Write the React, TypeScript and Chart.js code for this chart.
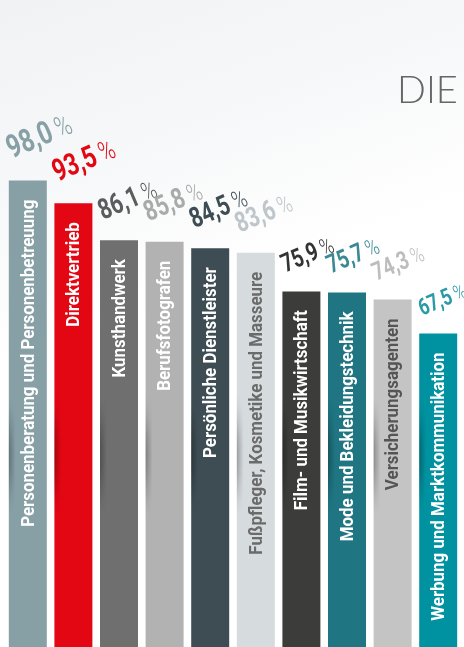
import React, { useEffect, useRef } from "react";
import { Chart, registerables } from "chart.js";

Chart.register(...registerables);

const categories = [
  "Personenberatung und Personenbetreuung",
  "Direktvertrieb",
  "Kunsthandwerk",
  "Berufsfotografen",
  "Persönliche Dienstleister",
  "Fußpfleger, Kosmetike und Masseure",
  "Film- und Musikwirtschaft",
  "Mode und Bekleidungstechnik",
  "Versicherungsagenten",
  "Werbung und Marktkommunikation",
];

const values = [98.0, 93.5, 86.1, 85.8, 84.5, 83.6, 75.9, 75.7, 74.3, 67.5];

const valueLabels = ["98,0", "93,5", "86,1", "85,8", "84,5", "83,6", "75,9", "75,7", "74,3", "67,5"];

const barColors = [
  "#87a0a6", "#e30613", "#6f6f6f", "#b2b2b2", "#3e4d54",
  "#d6dbde", "#3c3c3a", "#1f7582", "#c4c4c4", "#0092a0",
];

const valueColors = [
  "#87a0a6", "#e30613", "#5c5c5c", "#aaaaaa", "#3e4d54",
  "#bfc6cb", "#333333", "#3a8995", "#bdbdbd", "#2b9aa6",
];

const nameColors = [
  "#ffffff", "#ffffff", "#ffffff", "#ffffff", "#ffffff",
  "#6b6b6b", "#ffffff", "#ffffff", "#555555", "#ffffff",
];

const FONT = "Roboto, 'Liberation Sans', sans-serif";

const labelPlugin = {
  id: "labelPlugin",
  afterDatasetsDraw(chart: any) {
    const ctx = chart.ctx as CanvasRenderingContext2D;
    const meta = chart.getDatasetMeta(0);
    meta.data.forEach((bar: any, i: number) => {
      const left = bar.x - bar.width / 2;

      // soft shadow along the left edge of each bar
      ctx.save();
      const centerY = 455;
      const half = 65;
      for (let yy = centerY - half; yy < centerY + half; yy++) {
        if (yy < bar.y) continue;
        const t = (yy - centerY) / half;
        const a = 0.28 * Math.pow(Math.cos((t * Math.PI) / 2), 2);
        const g = ctx.createLinearGradient(left, 0, left + 7, 0);
        g.addColorStop(0, `rgba(0,0,0,${a})`);
        g.addColorStop(1, "rgba(0,0,0,0)");
        ctx.fillStyle = g;
        ctx.fillRect(left, yy, 7, 1);
      }
      ctx.restore();

      // category label inside bar (vertical)
      ctx.save();
      ctx.translate(bar.x, bar.y + 19);
      ctx.rotate(-Math.PI / 2);
      ctx.scale(0.89, 1);
      ctx.font = `bold 19px ${FONT}`;
      ctx.textAlign = "right";
      ctx.textBaseline = "middle";
      ctx.fillStyle = nameColors[i];
      ctx.fillText(categories[i], 0, 1);
      ctx.restore();

      // value label above bar (slanted, size grows with the value)
      const size = 32 - (98 - values[i]) * 0.28;
      const s = size / 32;
      ctx.save();
      ctx.translate(left + 3, bar.y - (6 + size * 0.5));
      ctx.rotate((-23 * Math.PI) / 180);
      ctx.scale(0.75 * s, s);
      ctx.fillStyle = valueColors[i];
      ctx.textAlign = "left";
      ctx.textBaseline = "alphabetic";
      ctx.font = `bold 32px ${FONT}`;
      ctx.fillText(valueLabels[i], 0, 0);
      const w = ctx.measureText(valueLabels[i]).width;
      ctx.font = `300 29px ${FONT}`;
      ctx.fillText("%", w + 6, 0);
      ctx.restore();
    });

    // title fragment
    ctx.save();
    ctx.fillStyle = "#666666";
    ctx.font = `300 38px Lato, 'Open Sans', sans-serif`;
    ctx.textAlign = "left";
    ctx.textBaseline = "alphabetic";
    ctx.fillText("DIE", 397, 103);
    ctx.restore();
  },
};

export default function App() {
  const ref = useRef<HTMLCanvasElement | null>(null);
  useEffect(() => {
    if (!ref.current) return;
    const chart = new Chart(ref.current, {
      type: "bar",
      data: {
        labels: categories,
        datasets: [
          {
            data: values,
            backgroundColor: barColors,
            borderWidth: 0,
            categoryPercentage: 1,
            barPercentage: 0.833,
          },
        ],
      },
      options: {
        responsive: false,
        animation: false,
        layout: { padding: { left: 5, right: 3, top: 0, bottom: 0 } },
        plugins: { legend: { display: false }, tooltip: { enabled: false } },
        scales: {
          x: { display: false },
          y: { display: false, min: 5, max: 134 },
        },
      },
      plugins: [labelPlugin],
    });
    return () => chart.destroy();
  }, []);
  return (
    <div
      style={{
        position: "absolute",
        left: 0,
        top: 0,
        width: 464,
        height: 647,
        overflow: "hidden",
        background:
          "linear-gradient(160deg, #f1f2f3 0%, #f7f8f9 25%, #ffffff 45%, #ffffff 100%)",
      }}
    >
      <canvas ref={ref} width={464} height={647} style={{ display: "block" }} />
    </div>
  );
}
